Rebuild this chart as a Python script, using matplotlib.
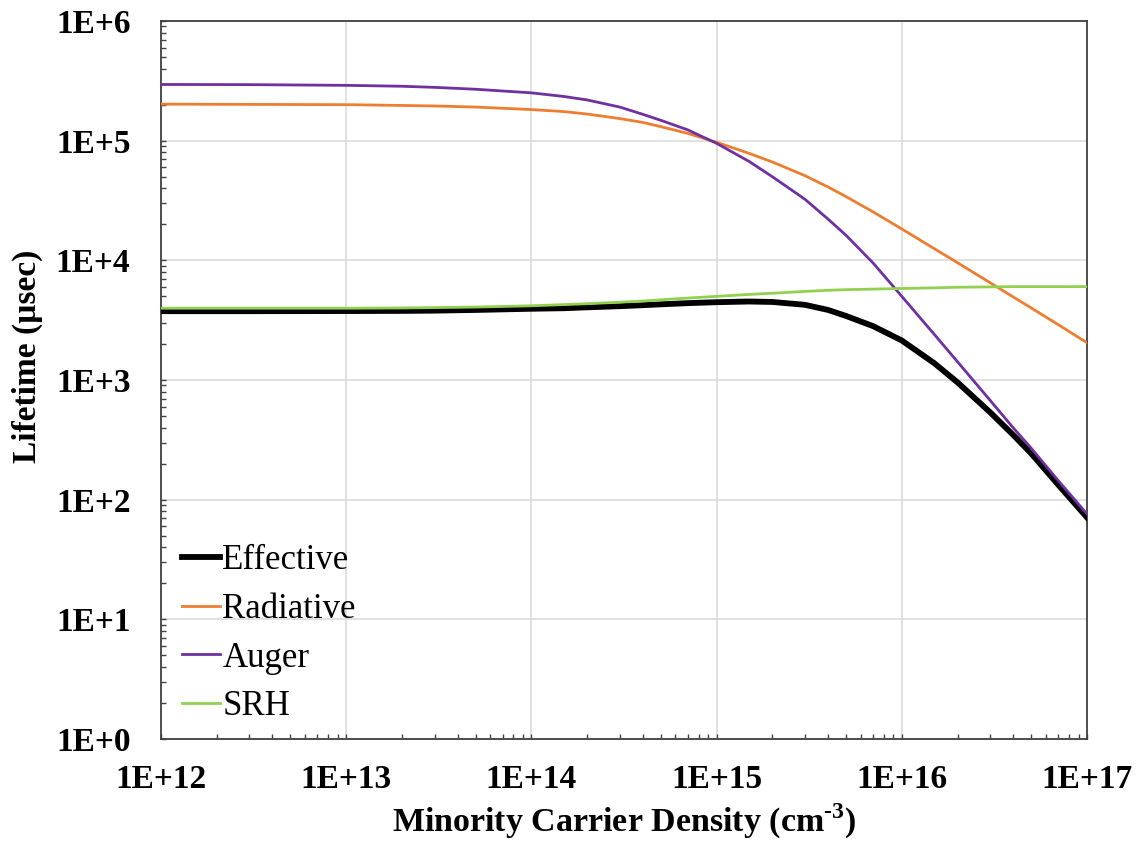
import numpy as np
import matplotlib
matplotlib.use('Agg')
import matplotlib.pyplot as plt
from matplotlib.ticker import LogLocator, FixedLocator, FuncFormatter, NullFormatter

# minority carrier density (cm^-3)
density = [1e12, 3e12, 1e13, 2e13, 3e13, 5e13, 1e14, 1.5e14, 2e14, 3e14, 4e14, 5e14, 7e14,
           1e15, 1.5e15, 2e15, 3e15, 4e15, 5e15, 7e15,
           1e16, 1.5e16, 2e16, 3e16, 4e16, 5e16, 7e16, 1e17]

# lifetimes (usec)
effective = [3.76e3, 3.76e3, 3.77e3, 3.78e3, 3.80e3, 3.85e3, 3.94e3, 3.98e3, 4.05e3, 4.14e3,
             4.22e3, 4.29e3, 4.39e3, 4.47e3, 4.53e3, 4.49e3, 4.25e3, 3.85e3, 3.43e3, 2.82e3,
             2.14e3, 1.38e3, 955, 537, 347, 243, 133, 71]
radiative = [2.02e5, 2.01e5, 2.0e5, 1.97e5, 1.95e5, 1.91e5, 1.82e5, 1.75e5, 1.67e5, 1.53e5,
             1.42e5, 1.31e5, 1.15e5, 9.7e4, 7.83e4, 6.64e4, 5.1e4, 4.1e4, 3.41e4, 2.54e4,
             1.83e4, 1.25e4, 9.55e3, 6.5e3, 4.94e3, 4.0e3, 2.9e3, 2.05e3]
auger = [2.95e5, 2.94e5, 2.9e5, 2.85e5, 2.79e5, 2.69e5, 2.51e5, 2.34e5, 2.19e5, 1.91e5,
         1.66e5, 1.48e5, 1.23e5, 9.5e4, 6.7e4, 5.0e4, 3.24e4, 2.21e4, 1.62e4, 9.5e3,
         5.0e3, 2.4e3, 1.42e3, 676, 398, 269, 144, 76]
srh = [3.98e3, 3.98e3, 3.98e3, 4.0e3, 4.03e3, 4.07e3, 4.17e3, 4.27e3, 4.34e3, 4.47e3,
       4.57e3, 4.68e3, 4.84e3, 5.0e3, 5.19e3, 5.31e3, 5.5e3, 5.62e3, 5.69e3, 5.75e3,
       5.82e3, 5.89e3, 5.96e3, 6.0e3, 6.03e3, 6.03e3, 6.03e3, 6.03e3]

plt.rcParams['font.family'] = ['Liberation Serif', 'DejaVu Serif']
plt.rcParams['mathtext.fontset'] = 'custom'
plt.rcParams['mathtext.rm'] = 'Liberation Serif:bold'
plt.rcParams['mathtext.bf'] = 'Liberation Serif:bold'

fig = plt.figure(figsize=(11.4, 8.44), dpi=100)
ax = fig.add_axes([0.1412, 0.1244, 0.8123, 0.8507])

ax.plot(density, effective, c='black', lw=4.2, label='Effective', zorder=3,
        solid_joinstyle='round')
ax.plot(density, radiative, c='#ED7D31', lw=2.0, label='Radiative', zorder=4,
        solid_joinstyle='round')
ax.plot(density, auger, c='#7030A0', lw=2.0, label='Auger', zorder=4,
        solid_joinstyle='round')
ax.plot(density, srh, c='#92D050', lw=2.0, label='SRH', zorder=4,
        solid_joinstyle='round')

ax.set_xscale('log')
ax.set_yscale('log')
ax.set_xlim(1e12, 1e17)
ax.set_ylim(1e0, 1e6)

fmt = FuncFormatter(lambda v, p: '1E+%d' % round(np.log10(v)))
ax.xaxis.set_major_locator(FixedLocator([10.0**k for k in range(12, 18)]))
ax.yaxis.set_major_locator(FixedLocator([10.0**k for k in range(0, 7)]))
ax.xaxis.set_major_formatter(fmt)
ax.yaxis.set_major_formatter(fmt)
ax.xaxis.set_minor_locator(LogLocator(base=10, subs=np.arange(2, 10), numticks=20))
ax.yaxis.set_minor_locator(LogLocator(base=10, subs=np.arange(2, 10), numticks=20))
ax.xaxis.set_minor_formatter(NullFormatter())
ax.yaxis.set_minor_formatter(NullFormatter())

ax.tick_params(axis='both', which='both', direction='in', length=3.6,
               width=1.0, color='#404040')
ax.tick_params(axis='x', which='major', labelsize=24, pad=18)
ax.tick_params(axis='y', which='major', labelsize=24, pad=22)
for lab in ax.get_xticklabels() + ax.get_yticklabels():
    lab.set_fontweight('bold')

ax.grid(True, which='major', color='#d9d9d9', lw=1.1, zorder=0)
ax.set_axisbelow(True)
for s in ax.spines.values():
    s.set_color('#404040')
    s.set_linewidth(1.3)

ax.set_xlabel('Minority Carrier Density (cm$^{\\text{-3}}$)', fontsize=24.5,
              fontweight='bold')
ax.xaxis.set_label_coords(0.5, -0.088)
ax.set_ylabel('Lifetime (\u00b5sec)', fontsize=24, fontweight='bold')
ax.yaxis.set_label_coords(-0.1274, 0.533)

ax.legend(loc='lower left', bbox_to_anchor=(0.023, 0.022), frameon=False,
          fontsize=25, borderpad=0, borderaxespad=0, labelspacing=0.45,
          handlelength=1.1, handletextpad=0.05)

plt.savefig('out.png', dpi=100)
